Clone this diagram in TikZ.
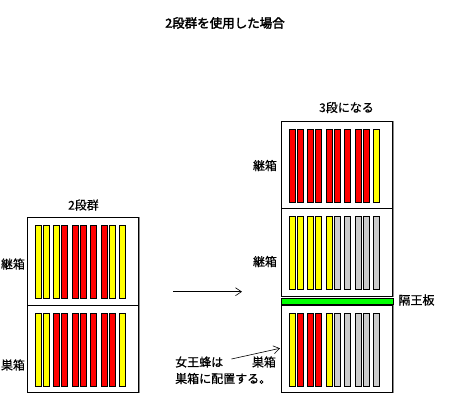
\documentclass[tikz,border=0pt]{standalone}
\usepackage{fontspec}
\newfontfamily\jp[FakeBold=0.6]{Noto Sans CJK JP}
\newfontfamily\jpb[FakeBold=2.5]{Noto Sans CJK JP}
\usetikzlibrary{arrows.meta}
\definecolor{fy}{RGB}{255,255,0}
\definecolor{fr}{RGB}{255,0,0}
\definecolor{fg}{RGB}{204,204,204}
\definecolor{gb}{RGB}{0,255,0}
\tikzset{
  hive/.style={draw=black, line width=0.9pt, minimum width=111pt, minimum height=87.5pt, inner sep=0pt, anchor=north west},
  bar/.style={draw=black, line width=0.9pt},
  lbl/.style={font=\jp\fontsize{12}{14}\selectfont, inner sep=0pt},
  ttl/.style={font=\jpb\fontsize{12.5}{14}\selectfont, inner sep=0pt},
  arr/.style={line width=0.6pt, -{Straight Barb[length=6pt,width=8pt,line width=0.6pt]}},
  shadow/.style={draw=black!45, line width=1pt}
}
\newcommand\bars[3]{%
  \foreach \c [count=\i] in {#3} {
    \pgfmathsetmacro\dx{{9,16.6,27,35.3,46,53.6,63.6,74.6,82.6,93.2}[\i-1]}
    \draw[bar,fill=\c] (#1+\dx,#2+8.5) rectangle ++(6,73);
  }}
\begin{document}
\begin{tikzpicture}[x=1pt,y=-1pt]
\useasboundingbox (0,0) rectangle (450,400);
% title
\node[ttl] (title) at (225,23) {2段群を使用した場合};
% left hive (2 stories)
\node[lbl] (t2) at (83.5,205) {2段群};
\node[hive] (L1) at (26.5,217) {};
\node[hive] (L2) at (26.5,304.5) {};
\draw[shadow] ([xshift=1.2pt]L1.north east) -- ([xshift=1.2pt]L2.south east);
\bars{26.5}{217}{fy,fy,fy,fr,fr,fr,fr,fr,fy,fy}
\bars{26.5}{304.5}{fy,fy,fr,fr,fr,fr,fr,fr,fr,fy}
\node[lbl] (lk) at (13,264) {継箱};
\node[lbl] (ls) at (13,365) {巣箱};
% middle arrow
\coordinate (a1) at (173,291.7);
\coordinate (a2) at (242,291.7);
\draw[arr] (a1) -- (a2);
% right hive (3 stories)
\node[lbl] (t3) at (346.5,107.5) {3段になる};
\node[hive] (R1) at (280.5,120.7) {};
\node[hive] (R2) at (280.5,208.3) {};
\node[hive] (R3) at (280.5,304.5) {};
\draw[shadow] ([xshift=1.2pt]R1.north east) -- ([xshift=1.2pt]R2.south east);
\draw[shadow] ([xshift=1.2pt]R3.north east) -- ([xshift=1.2pt]R3.south east);
\bars{280.5}{120.7}{fr,fr,fr,fr,fr,fr,fr,fr,fr,fy}
\bars{280.5}{208.3}{fy,fy,fy,fy,fy,fg,fg,fg,fg,fg}
\bars{280.5}{304.5}{fy,fr,fr,fr,fy,fg,fg,fg,fg,fg}
% queen excluder
\node[draw=black, line width=0.8pt, fill=gb, minimum width=111.5pt, minimum height=6.5pt, inner sep=0pt, anchor=north west] (ex) at (281,297.5) {};
\node[lbl] (exl) at (416.5,300) {隔王板};
\node[lbl] (rk1) at (265,165.5) {継箱};
\node[lbl] (rk2) at (265,261.5) {継箱};
\node[lbl] (rs) at (264,362) {巣箱};
% queen note
\node[lbl, anchor=west] (q1) at (175,362) {女王蜂は};
\node[lbl, anchor=west] (q2) at (175,378.5) {巣箱に配置する。};
\coordinate (qa) at (231.5,359);
\coordinate (qb) at (280,348.3);
\draw[arr] (qa) -- (qb);
\end{tikzpicture}
\end{document}
